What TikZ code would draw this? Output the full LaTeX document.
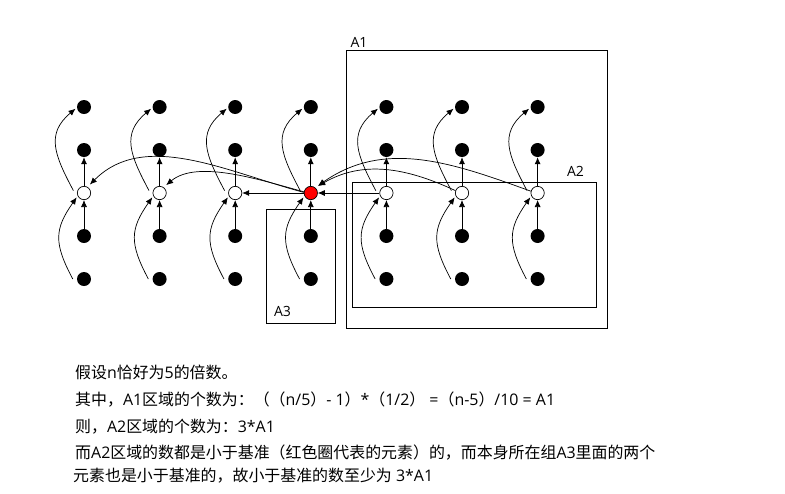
\documentclass[tikz,border=0pt]{standalone}
\usepackage{fontspec}
\setmainfont{Noto Sans CJK SC}
\newfontfamily\lat{Open Sans}
\usetikzlibrary{arrows.meta}

\begin{document}
\begin{tikzpicture}[x=0.03cm, y=-0.03cm,
  dot/.style={circle, fill=black, inner sep=0pt, minimum size=0.42cm},
  pivot/.style={circle, draw, inner sep=0pt, minimum size=0.4cm, line width=0.6pt},
  ar/.style={-{Latex[length=2.1mm, width=1.8mm]}, line width=0.6pt},
  region/.style={draw, line width=0.85pt},
  tag/.style={font=\lat\fontsize{12}{14}\selectfont},
  note/.style={anchor=west, inner sep=0pt, font=\fontsize{13.6}{15}\selectfont}]
\useasboundingbox (0,0) rectangle (785,493);
% regions
\draw[region] (346,50) rectangle (607,328);
\draw[region] (352,182) rectangle (596,307);
\draw[region] (266,209) rectangle (335,323);
\node[tag] (labA1) at (359,42.5) {A1};
\node[tag] (labA2) at (575.5,171) {A2};
\node[tag] (labA3) at (282.5,311.5) {A3};
% columns of elements
\foreach \i/\x/\f in {1/84/white, 2/159.6/white, 3/235.2/white, 4/310.8/red,
                      5/386.4/white, 6/462/white, 7/537.6/white} {
  \node[dot] (p\i) at (\x,107) {};
  \node[dot] (q\i) at (\x,150) {};
  \node[pivot, fill=\f] (c\i) at (\x,193) {};
  \node[dot] (r\i) at (\x,236) {};
  \node[dot] (s\i) at (\x,279) {};
  \draw[ar] (r\i) -- (c\i);
  \draw[ar] (c\i) -- (q\i);
  \draw[ar, shorten >=0.5mm] ([xshift=-1.2mm]s\i.west) to[out=118, in=235, looseness=1.25] (c\i.205);
  \draw[ar, shorten >=0.5mm] ([xshift=-1.2mm]c\i.160) to[out=118, in=220, looseness=1.25] (p\i.185);
}
% moves around the pivot
\draw[ar] (c5) -- (c4);
\draw[ar] (c4) -- (c3);
\draw[ar, shorten >=1mm] (c4.175) to[out=165, in=45, looseness=0.95] (c1.60);
\draw[ar, shorten >=1mm] (c4.170) to[out=165, in=40, looseness=0.8] (c2.55);
\draw[ar, shorten >=1mm] (c7.165) to[out=160, in=35] (c4.50);
\draw[ar, shorten >=1mm] (c6.160) to[out=155, in=30] (c4.50);
% notes
\node[note] (line1) at (75,372) {假设{\lat n}恰好为{\lat 5}的倍数。};
\node[note] (line2) at (75,400) {其中，{\lat A1}区域的个数为：（（{\lat n/5}）{\lat - 1}）{\lat *}（{\lat 1/2}）{\lat\ =}（{\lat n-5}）{\lat /10 = A1}};
\node[note] (line3) at (75,427) {则，{\lat A2}区域的个数为：{\lat 3*A1}};
\node[note] (line4) at (75,453) {而{\lat A2}区域的数都是小于基准（红色圈代表的元素）的，而本身所在组{\lat A3}里面的两个};
\node[note] (line5) at (73,476) {元素也是小于基准的，故小于基准的数至少为{\lat\ 3*A1}};
\end{tikzpicture}
\end{document}
